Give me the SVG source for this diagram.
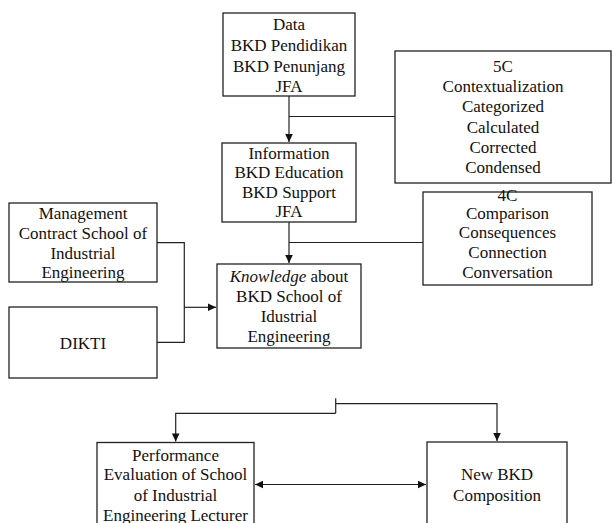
<svg xmlns="http://www.w3.org/2000/svg" width="612" height="523" viewBox="0 0 612 523">
<style>
.box{fill:#fff;stroke:#222;stroke-width:1.3}
.t{font-family:'Liberation Serif','Times New Roman','DejaVu Serif',serif;font-size:17px;fill:#111;text-anchor:middle}
.c{fill:none;stroke:#222;stroke-width:1.2}
</style>
<defs>
<marker id="ah" markerUnits="userSpaceOnUse" markerWidth="10" markerHeight="10" viewBox="0 0 10 10" refX="9" refY="5" orient="auto-start-reverse">
<path d="M1,1.2 L9,5 L1,8.8 Z" fill="#111"/>
</marker>
</defs>
<rect width="612" height="523" fill="#fff"/>
<g id="connectors">
<path class="c" d="M289,96 V142" marker-end="url(#ah)"/>
<path class="c" d="M289,116.5 H395"/>
<path class="c" d="M289,222 V263" marker-end="url(#ah)"/>
<path class="c" d="M289,242.5 H423"/>
<path class="c" d="M157,242.7 H184.3 V342.3 H157"/>
<path class="c" d="M184.3,307.3 H216" marker-end="url(#ah)"/>
<path class="c" d="M335.7,398.3 V413.3"/>
<path class="c" d="M335.7,403.7 H497 V441" marker-end="url(#ah)"/>
<path class="c" d="M335.7,413.3 H175.7 V441.5" marker-end="url(#ah)"/>
<path class="c" d="M255,484.5 H426" marker-start="url(#ah)" marker-end="url(#ah)"/>
</g>
<g font-family="Liberation Serif, Times New Roman, serif">
<g id="data">
<rect class="box" x="223" y="13" width="132" height="83"/>
<text class="t" x="289" y="29.5">Data</text>
<text class="t" x="289" y="50.5">BKD Pendidikan</text>
<text class="t" x="289" y="71.5">BKD Penunjang</text>
<text class="t" x="289" y="91.5">JFA</text>
</g>
<g id="c5">
<rect class="box" x="395" y="51" width="216" height="132"/>
<text class="t" x="503" y="72">5C</text>
<text class="t" x="503" y="92">Contextualization</text>
<text class="t" x="503" y="112">Categorized</text>
<text class="t" x="503" y="133">Calculated</text>
<text class="t" x="503" y="153">Corrected</text>
<text class="t" x="503" y="173">Condensed</text>
</g>
<g id="information">
<rect class="box" x="222" y="143" width="134" height="79"/>
<text class="t" x="289" y="158.5">Information</text>
<text class="t" x="289" y="178">BKD Education</text>
<text class="t" x="289" y="197.5">BKD Support</text>
<text class="t" x="289" y="217">JFA</text>
</g>
<g id="c4">
<rect class="box" x="423" y="192" width="169" height="93"/>
<text class="t" x="507.5" y="200.5">4C</text>
<text class="t" x="507.5" y="219">Comparison</text>
<text class="t" x="507.5" y="238">Consequences</text>
<text class="t" x="507.5" y="258">Connection</text>
<text class="t" x="507.5" y="278">Conversation</text>
</g>
<g id="management">
<rect class="box" x="9" y="203" width="148" height="79"/>
<text class="t" x="83" y="219">Management</text>
<text class="t" x="83" y="239">Contract School of</text>
<text class="t" x="83" y="259">Industrial</text>
<text class="t" x="83" y="278">Engineering</text>
</g>
<g id="dikti">
<rect class="box" x="9" y="307" width="148" height="71"/>
<text class="t" x="83" y="349">DIKTI</text>
</g>
<g id="knowledge">
<rect class="box" x="217" y="264" width="144" height="84"/>
<text class="t" x="289" y="281.5"><tspan font-style="italic">Knowledge</tspan> about</text>
<text class="t" x="289" y="302">BKD School of</text>
<text class="t" x="289" y="322">Idustrial</text>
<text class="t" x="289" y="342">Engineering</text>
</g>
<g id="performance">
<rect class="box" x="97" y="442.5" width="157" height="95"/>
<text class="t" x="175.5" y="460.5">Performance</text>
<text class="t" x="175.5" y="480">Evaluation of School</text>
<text class="t" x="175.5" y="500.5">of Industrial</text>
<text class="t" x="175.5" y="520.5">Engineering Lecturer</text>
</g>
<g id="newbkd">
<rect class="box" x="427" y="442" width="140" height="95"/>
<text class="t" x="497" y="480">New BKD</text>
<text class="t" x="497" y="500.5">Composition</text>
</g>
</g>
</svg>
